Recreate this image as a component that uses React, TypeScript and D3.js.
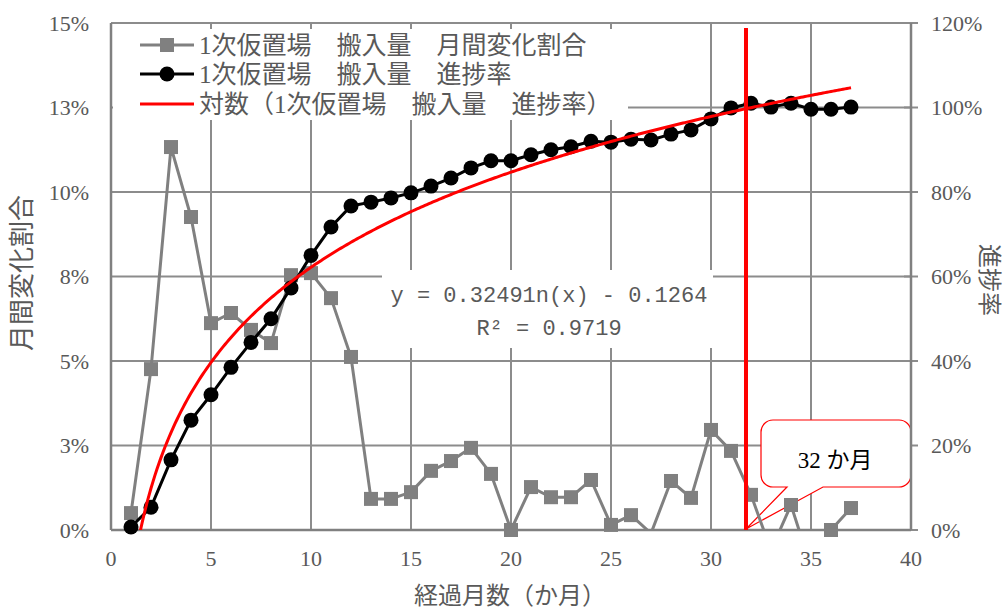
import React, { useRef, useEffect } from "react";
import * as d3 from "d3";

// months since start (x axis)
const months = [
  1, 2, 3, 4, 5, 6, 7, 8, 9, 10, 11, 12, 13, 14, 15, 16, 17, 18, 19, 20,
  21, 22, 23, 24, 25, 26, 27, 28, 29, 30, 31, 32, 33, 34, 35, 36, 37,
];

// 1次仮置場 搬入量 月間変化割合 (% , left axis)
const monthlyRate = [
  0.5, 4.76, 11.33, 9.26, 6.12, 6.42, 5.92, 5.53, 7.54, 7.6, 6.86, 5.12, 0.92,
  0.92, 1.12, 1.75, 2.04, 2.43, 1.66, 0.0, 1.27, 0.97, 0.97, 1.48, 0.15, 0.44,
  -0.1, 1.45, 0.95, 2.96, 2.34, 1.04, -0.6, 0.74, -1.1, 0.0, 0.65,
];

// 1次仮置場 搬入量 進捗率 (% , right axis)
const progress = [
  0.7, 5.4, 16.6, 26, 32, 38.5, 44.4, 50, 57.3, 65, 71.7, 76.7, 77.6, 78.6,
  79.8, 81.4, 83.3, 85.7, 87.4, 87.4, 88.8, 90, 90.7, 92, 91.8, 92.5, 92.3,
  93.7, 94.7, 97.3, 99.9, 101, 100.1, 101, 99.6, 99.6, 100.1,
];

// fitted log trendline y = a ln(x) + b
const trendA = 0.3249;
const trendB = -0.1264;

const xTicks = [0, 5, 10, 15, 20, 25, 30, 35, 40];
const leftTicks = [0, 0.025, 0.05, 0.075, 0.1, 0.125, 0.15];
const leftTickLabels = ["0%", "3%", "5%", "8%", "10%", "13%", "15%"];
const rightTicks = [0, 0.2, 0.4, 0.6, 0.8, 1.0, 1.2];
const rightTickLabels = ["0%", "20%", "40%", "60%", "80%", "100%", "120%"];

const legendLabels = [
  "1次仮置場　搬入量　月間変化割合",
  "1次仮置場　搬入量　進捗率",
  "対数（1次仮置場　搬入量　進捗率）",
];

const markerMonth = 31.75; // red vertical marker
const calloutText = "32 か月";

const SERIF = "'Liberation Serif', 'Times New Roman', 'DejaVu Serif', 'Noto Sans CJK JP', serif";
const MONO = "'Liberation Mono', 'DejaVu Sans Mono', monospace";
const LABEL = "#595959";
const GRID = "#8c8c8c";

export default function App() {
  const svgRef = useRef<SVGSVGElement>(null);
  const width = 1003;
  const height = 608;

  useEffect(() => {
    const svg = d3.select(svgRef.current);
    svg.selectAll("*").remove();

    const left = 111, right = 911, top = 23, bottom = 530;
    const x = d3.scaleLinear().domain([0, 40]).range([left, right]);
    const yL = d3.scaleLinear().domain([0, 0.15]).range([bottom, top]);
    const yR = d3.scaleLinear().domain([0, 1.2]).range([bottom, top]);

    svg.append("rect").attr("width", width).attr("height", height).attr("fill", "#fff");

    const defs = svg.append("defs");
    defs.append("clipPath").attr("id", "plotClip")
      .append("rect").attr("x", left).attr("y", top)
      .attr("width", right - left).attr("height", bottom - top);

    // gridlines
    const grid = svg.append("g").attr("stroke", GRID).attr("stroke-width", 2);
    leftTicks.forEach((t) => {
      grid.append("line").attr("x1", left).attr("x2", right)
        .attr("y1", yL(t)).attr("y2", yL(t));
    });
    xTicks.forEach((t) => {
      grid.append("line").attr("x1", x(t)).attr("x2", x(t))
        .attr("y1", top).attr("y2", bottom);
    });
    // right axis cross ticks
    rightTicks.forEach((t) => {
      grid.append("line").attr("x1", right - 7).attr("x2", right + 7)
        .attr("y1", yR(t)).attr("y2", yR(t));
    });

    // legend box
    svg.append("rect").attr("x", left + 2).attr("y", 29)
      .attr("width", 515).attr("height", 91).attr("fill", "#fff");
    // equation box
    svg.append("rect").attr("x", 382).attr("y", 270)
      .attr("width", 331).attr("height", 78).attr("fill", "#fff");

    // tick labels
    const tl = svg.append("g").style("font-family", SERIF).attr("font-size", 22).attr("fill", LABEL);
    leftTicks.forEach((t, i) => {
      tl.append("text").attr("x", 89).attr("y", yL(t)).attr("dy", "0.35em")
        .attr("text-anchor", "end").text(leftTickLabels[i]);
    });
    rightTicks.forEach((t, i) => {
      tl.append("text").attr("x", 931).attr("y", yR(t)).attr("dy", "0.35em")
        .attr("text-anchor", "start").text(rightTickLabels[i]);
    });
    xTicks.forEach((t) => {
      tl.append("text").attr("x", x(t)).attr("y", 566)
        .attr("text-anchor", "middle").text(String(t));
    });

    // axis titles
    svg.append("text").attr("x", 510).attr("y", 604).attr("text-anchor", "middle")
      .style("font-family", SERIF).attr("font-size", 24).attr("fill", LABEL)
      .text("経過月数（か月）");
    svg.append("text").attr("transform", "translate(31,273) rotate(-90)")
      .attr("text-anchor", "middle").style("font-family", SERIF)
      .attr("font-size", 26).attr("fill", LABEL).text("月間変化割合");
    svg.append("text").attr("transform", "translate(981,280) rotate(90)")
      .attr("text-anchor", "middle").style("font-family", SERIF)
      .attr("font-size", 24).attr("fill", LABEL).text("進捗率");

    // equation text
    const eq = svg.append("g").style("font-family", MONO).attr("font-size", 22)
      .attr("fill", LABEL).attr("text-anchor", "middle");
    eq.append("text").attr("x", 549).attr("y", 302).attr("xml:space", "preserve")
      .text("y = 0.32491n(x) - 0.1264");
    eq.append("text").attr("x", 549).attr("y", 335).attr("xml:space", "preserve")
      .text("R² = 0.9719");

    // callout
    const cx0 = 761, cx1 = 911, cy0 = 420, cy1 = 487, r = 12;
    const tipX = x(markerMonth), tipY = bottom - 1;
    const callout = d3.path();
    callout.moveTo(cx0 + r, cy0);
    callout.lineTo(cx1 - r, cy0);
    callout.arcTo(cx1, cy0, cx1, cy0 + r, r);
    callout.lineTo(cx1, cy1 - r);
    callout.arcTo(cx1, cy1, cx1 - r, cy1, r);
    callout.lineTo(823, cy1);
    callout.lineTo(tipX, tipY);
    callout.lineTo(787, cy1);
    callout.lineTo(cx0 + r, cy1);
    callout.arcTo(cx0, cy1, cx0, cy1 - r, r);
    callout.lineTo(cx0, cy0 + r);
    callout.arcTo(cx0, cy0, cx0 + r, cy0, r);
    callout.closePath();
    svg.append("path").attr("d", callout.toString()).attr("fill", "#fff")
      .attr("stroke", "#ff0000").attr("stroke-width", 1.2);
    svg.append("text").attr("x", 835).attr("y", 468).attr("text-anchor", "middle")
      .style("font-family", SERIF).attr("font-size", 23).attr("fill", "#000")
      .text(calloutText);

    // axis lines
    const ax = svg.append("g").attr("stroke", "#808080").attr("stroke-width", 2.5);
    ax.append("line").attr("x1", left).attr("x2", left).attr("y1", top).attr("y2", bottom);
    ax.append("line").attr("x1", right).attr("x2", right).attr("y1", top).attr("y2", bottom);
    ax.append("line").attr("x1", left).attr("x2", right).attr("y1", bottom).attr("y2", bottom);

    // gray series: monthly change
    const grayLine = d3.line<number>()
      .x((_, i) => x(months[i]))
      .y((d) => yL(d / 100));
    svg.append("path").datum(monthlyRate).attr("d", grayLine)
      .attr("clip-path", "url(#plotClip)")
      .attr("fill", "none").attr("stroke", "#808080").attr("stroke-width", 3)
      .attr("stroke-linejoin", "round");
    svg.append("g").selectAll("rect")
      .data(monthlyRate.map((v, i) => ({ m: months[i], v })).filter((d) => d.v >= 0))
      .enter().append("rect")
      .attr("x", (d) => x(d.m) - 7).attr("y", (d) => yL(d.v / 100) - 7)
      .attr("width", 14).attr("height", 14).attr("fill", "#808080");

    // black series: progress
    const blackLine = d3.line<number>()
      .x((_, i) => x(months[i]))
      .y((d) => yR(d / 100));
    svg.append("path").datum(progress).attr("d", blackLine)
      .attr("fill", "none").attr("stroke", "#000").attr("stroke-width", 3);
    svg.append("g").selectAll("circle")
      .data(progress.map((v, i) => ({ m: months[i], v })))
      .enter().append("circle")
      .attr("cx", (d) => x(d.m)).attr("cy", (d) => yR(d.v / 100))
      .attr("r", 7.5).attr("fill", "#000");

    // log trendline
    const trendXs = d3.range(months[0], months[months.length - 1] + 0.001, 0.1);
    const trendLine = d3.line<number>()
      .x((d) => x(d))
      .y((d) => yR(trendA * Math.log(d) + trendB));
    svg.append("path").datum(trendXs).attr("d", trendLine)
      .attr("clip-path", "url(#plotClip)")
      .attr("fill", "none").attr("stroke", "#ff0000").attr("stroke-width", 3);

    // red vertical marker line
    svg.append("line").attr("x1", x(markerMonth)).attr("x2", x(markerMonth))
      .attr("y1", 28).attr("y2", bottom).attr("stroke", "#ff0000").attr("stroke-width", 4);

    // legend
    const lg = svg.append("g");
    const rows = [45, 74, 104];
    const ls = 140, le = 194, lm = 167;
    lg.append("line").attr("x1", ls).attr("x2", le).attr("y1", rows[0]).attr("y2", rows[0])
      .attr("stroke", "#808080").attr("stroke-width", 3);
    lg.append("rect").attr("x", lm - 7).attr("y", rows[0] - 7).attr("width", 14).attr("height", 14)
      .attr("fill", "#808080");
    lg.append("line").attr("x1", ls).attr("x2", le).attr("y1", rows[1]).attr("y2", rows[1])
      .attr("stroke", "#000").attr("stroke-width", 3);
    lg.append("circle").attr("cx", lm).attr("cy", rows[1]).attr("r", 7.5).attr("fill", "#000");
    lg.append("line").attr("x1", ls).attr("x2", le).attr("y1", rows[2]).attr("y2", rows[2])
      .attr("stroke", "#ff0000").attr("stroke-width", 3);
    legendLabels.forEach((label, i) => {
      lg.append("text").attr("x", 199).attr("y", rows[i]).attr("dy", "0.36em")
        .style("font-family", SERIF).attr("font-size", 25).attr("fill", LABEL)
        .text(label);
    });
  }, []);

  return (
    <svg
      ref={svgRef}
      width={width}
      height={height}
      viewBox={`0 0 ${width} ${height}`}
      style={{ position: "absolute", left: 0, top: 0, display: "block" }}
    />
  );
}
